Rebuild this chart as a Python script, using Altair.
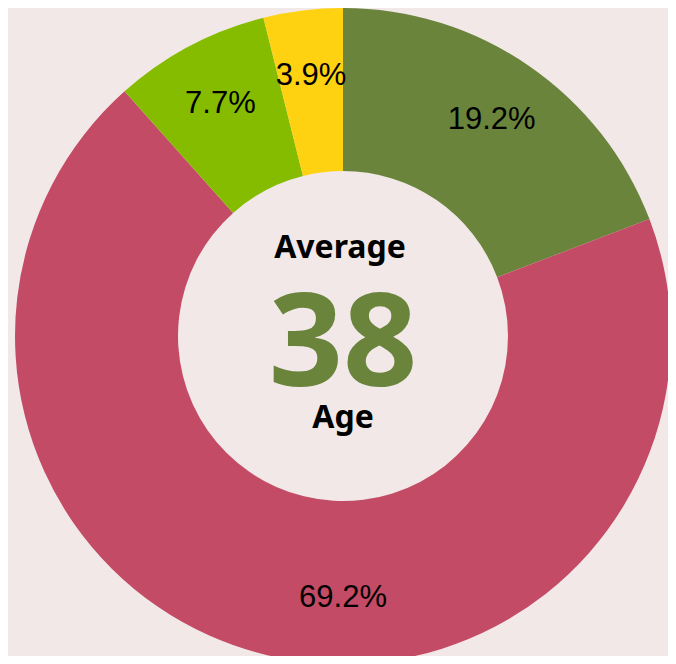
import math
import altair as alt
import pandas as pd

categories = ["A", "B", "C", "D"]
shares = [19.2, 69.2, 7.7, 3.9]
labels = ["19.2%", "69.2%", "7.7%", "3.9%"]
colors = ["#6a843c", "#c44b66", "#86bc00", "#fed111"]
center_title = "Average"
center_value = "38"
center_sub = "Age"

df = pd.DataFrame({"cat": categories, "share": shares, "label": labels,
                   "idx": list(range(len(categories)))})

W, H = 660, 648
CX, CY = 335, 327

arcs = alt.Chart(df).mark_arc(outerRadius=328, innerRadius=165, stroke=None).encode(
    theta=alt.Theta("share:Q", stack=True),
    order=alt.Order("idx:Q"),
    color=alt.Color("cat:N", scale=alt.Scale(domain=categories, range=colors), legend=None),
    x=alt.value(CX), y=alt.value(CY),
)

# label angle: middle of each slice; the dominant slice is labelled at its lowest point
text = alt.Chart(df).transform_window(
    cum="sum(share)", sort=[alt.SortField("idx")]
).transform_joinaggregate(total="sum(share)").transform_calculate(
    pos="datum.share > datum.total / 2 ? datum.total / 2 : datum.cum - datum.share / 2"
).mark_text(radius=262, font="Liberation Sans", fontSize=31, color="black").encode(
    theta=alt.Theta("pos:Q", stack=None, scale=alt.Scale(domain=[0, 100], range=[0, 2 * math.pi])),
    text="label:N", x=alt.value(CX), y=alt.value(CY),
)

center = pd.DataFrame({"t": [center_title, center_value, center_sub], "k": [0, 1, 2]})
t1 = alt.Chart(center).transform_filter("datum.k == 0").mark_text(
    font="Noto Sans", fontWeight="bold", fontSize=32, color="black", baseline="alphabetic"
).encode(text="t:N", x=alt.value(CX - 3), y=alt.value(249))
t2 = alt.Chart(center).transform_filter("datum.k == 1").mark_text(
    font="Noto Sans", fontWeight="bold", fontSize=130, color="#6a843c", baseline="alphabetic"
).encode(text="t:N", x=alt.value(CX), y=alt.value(377))
t3 = alt.Chart(center).transform_filter("datum.k == 2").mark_text(
    font="Noto Sans", fontWeight="bold", fontSize=32, color="black", baseline="alphabetic"
).encode(text="t:N", x=alt.value(CX), y=alt.value(419))

chart = alt.layer(arcs, text, t1, t2, t3).properties(
    width=W, height=H, padding=0, background="#f1e8e7",
    autosize=alt.AutoSizeParams(type="fit", contains="padding"),
).configure_view(stroke=None)

chart.save("out.html", embed_options={"renderer": "svg", "actions": False})
